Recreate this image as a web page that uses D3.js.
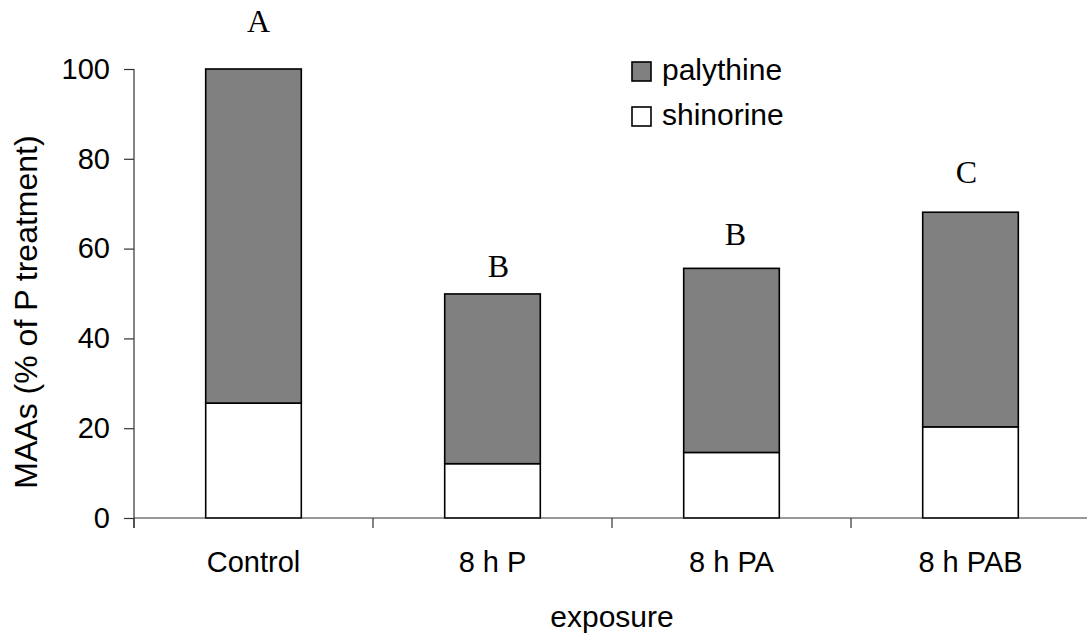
<!DOCTYPE html>
<html>
<head>
<meta charset="utf-8">
<script src="https://cdn.jsdelivr.net/npm/d3@7"></script>
<style>
  html, body { margin: 0; padding: 0; background: #fff; }
  svg { display: block; }
  text { font-family: Arial, "Liberation Sans", sans-serif; fill: #000; }
  .letter { font-family: "Times New Roman", "Liberation Serif", serif; }
</style>
</head>
<body>
<svg id="chart" width="1087" height="638"></svg>
<script>
// Exposure treatments
const categories = ["Control", "8 h P", "8 h PA", "8 h PAB"];
// MAA fractions, % of P treatment
const shinorine  = [25.6, 12.1, 14.6, 20.3];
const palythine  = [74.4, 37.8, 41.0, 47.8];
// Significance groups above each bar
const groupLetters = ["A", "B", "B", "C"];
const yTicks = [0, 20, 40, 60, 80, 100];
const seriesNames = ["shinorine", "palythine"];

const svg = d3.select("#chart");
const plotLeft = 134, plotRight = 1090, plotTop = 69, plotBottom = 518;

const x = d3.scaleBand()
  .domain(categories)
  .range([plotLeft, plotRight])
  .paddingInner(0.6)
  .paddingOuter(0.3);

const y = d3.scaleLinear().domain([0, 100]).range([plotBottom, plotTop]);

const color = d3.scaleOrdinal().domain(seriesNames).range(["#ffffff", "#808080"]);

// stacked layers
const rows = categories.map((c, i) => ({ cat: c, shinorine: shinorine[i], palythine: palythine[i] }));
const stack = d3.stack().keys(seriesNames)(rows);

const g = svg.append("g");

// bars
g.selectAll("g.layer")
  .data(stack)
  .join("g")
  .attr("class", "layer")
  .attr("fill", d => color(d.key))
  .selectAll("rect")
  .data(d => d)
  .join("rect")
  .attr("x", d => x(d.data.cat))
  .attr("width", x.bandwidth())
  .attr("y", d => y(d[1]))
  .attr("height", d => y(d[0]) - y(d[1]))
  .attr("stroke", "#000")
  .attr("stroke-width", 1.6);

// y axis
const yAxis = g.append("g")
  .attr("transform", `translate(${plotLeft},0)`)
  .call(d3.axisLeft(y).tickValues(yTicks).tickSize(10).tickSizeOuter(0).tickPadding(14));
yAxis.select(".domain").attr("stroke", "#333").attr("stroke-width", 1.2)
  .attr("d", `M0,${plotTop}V${plotBottom + 10}`);
yAxis.selectAll(".tick line").attr("stroke", "#333").attr("stroke-width", 1.2);
yAxis.selectAll(".tick text").attr("font-size", 29).attr("font-family", "Arial, 'Liberation Sans', sans-serif").attr("fill", "#000");

// x axis
const xAxis = g.append("g")
  .attr("transform", `translate(0,${plotBottom})`)
  .call(d3.axisBottom(x).tickSize(0).tickPadding(33).tickSizeOuter(0));
xAxis.select(".domain").attr("stroke", "#333").attr("stroke-width", 1.2)
  .attr("d", `M${plotLeft},0H${plotRight}`);
xAxis.selectAll(".tick text").attr("font-size", 29).attr("font-family", "Arial, 'Liberation Sans', sans-serif").attr("fill", "#000");

// category boundary ticks
const bounds = d3.range(categories.length + 1).map(i => plotLeft + i * x.step());
xAxis.selectAll("line.bound")
  .data(bounds)
  .join("line")
  .attr("class", "bound")
  .attr("x1", d => d).attr("x2", d => d)
  .attr("y1", 0).attr("y2", 10)
  .attr("stroke", "#333").attr("stroke-width", 1.2);

// axis titles
svg.append("text")
  .attr("x", (plotLeft + plotRight) / 2)
  .attr("y", 627)
  .attr("text-anchor", "middle")
  .attr("font-size", 30)
  .text("exposure");

svg.append("text")
  .attr("transform", "translate(37,312) rotate(-90)")
  .attr("text-anchor", "middle")
  .attr("font-size", 32)
  .text("MAAs (% of P treatment)");

// significance letters: nudge in px (dx right, gap above bar top)
const letterDx = [5, 6, 4, -4];
const letterGap = [37, 17, 23, 29];
const totals = categories.map((c, i) => shinorine[i] + palythine[i]);
g.selectAll("text.letter")
  .data(groupLetters)
  .join("text")
  .attr("class", "letter")
  .attr("x", (d, i) => x(categories[i]) + x.bandwidth() / 2 + letterDx[i])
  .attr("y", (d, i) => y(totals[i]) - letterGap[i])
  .attr("text-anchor", "middle")
  .attr("font-size", 32)
  .text(d => d);

// legend
const legendItems = ["palythine", "shinorine"];
const legend = svg.append("g").attr("transform", "translate(632,62)");
const li = legend.selectAll("g")
  .data(legendItems)
  .join("g")
  .attr("transform", (d, i) => `translate(0,${i * 45})`);
li.append("rect")
  .attr("width", 19).attr("height", 19)
  .attr("fill", d => color(d))
  .attr("stroke", "#000").attr("stroke-width", 1.6);
li.append("text")
  .attr("x", 30).attr("y", 18)
  .attr("font-size", 30)
  .text(d => d);
</script>
</body>
</html>
